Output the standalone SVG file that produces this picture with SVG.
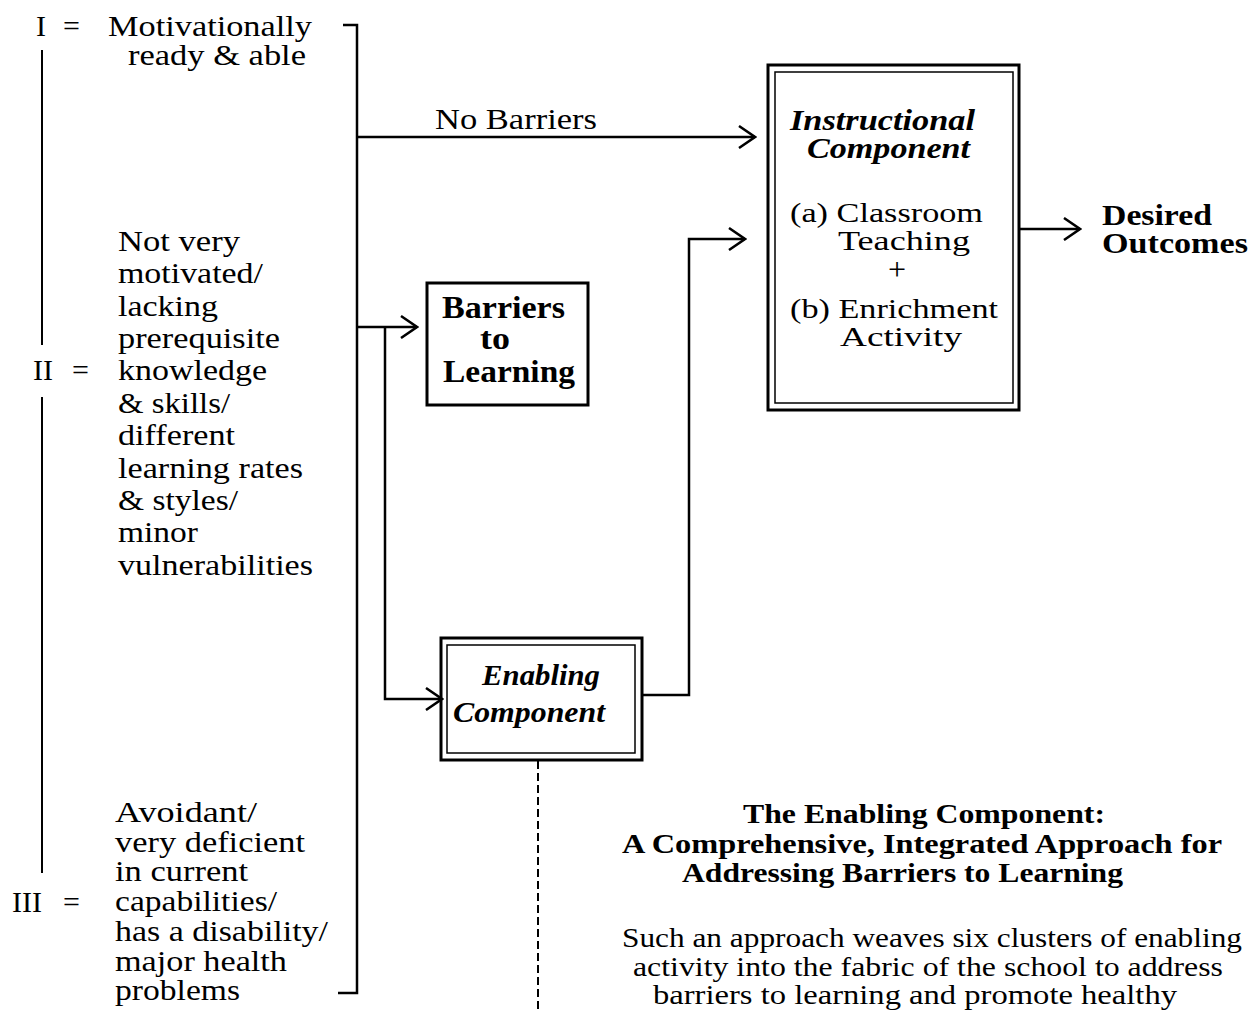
<svg xmlns="http://www.w3.org/2000/svg" width="1253" height="1012" viewBox="0 0 1253 1012">
<style>
text{font-family:"Liberation Serif","Times New Roman",serif;fill:#000}
.l{font-size:30px}
.b{font-weight:bold}
.bi{font-weight:bold;font-style:italic}
.ln{fill:none;stroke:#000;stroke-width:2.5}
.thin{fill:none;stroke:#000;stroke-width:2}
</style>
<defs>
<marker id="arr" viewBox="0 0 20 24" refX="18" refY="12" markerWidth="20" markerHeight="24" markerUnits="userSpaceOnUse" orient="auto">
<path d="M2,1 L18,12 L2,23" fill="none" stroke="#000" stroke-width="2.5"/>
</marker>
</defs>
<rect width="1253" height="1012" fill="#fff"/>

<g id="group-I" class="l">
<text x="36" y="36">I</text>
<text x="63" y="36">=</text>
<text x="108" y="36" textLength="204" lengthAdjust="spacingAndGlyphs">Motivationally</text>
<text x="128" y="65" textLength="178" lengthAdjust="spacingAndGlyphs">ready &amp; able</text>
</g>

<g id="group-II" class="l">
<text x="33" y="380" textLength="20" lengthAdjust="spacingAndGlyphs">II</text>
<text x="72" y="380">=</text>
<text x="118" y="251" textLength="122" lengthAdjust="spacingAndGlyphs">Not very</text>
<text x="118" y="283" textLength="145" lengthAdjust="spacingAndGlyphs">motivated/</text>
<text x="118" y="316" textLength="100" lengthAdjust="spacingAndGlyphs">lacking</text>
<text x="118" y="348" textLength="162" lengthAdjust="spacingAndGlyphs">prerequisite</text>
<text x="118" y="380" textLength="149" lengthAdjust="spacingAndGlyphs">knowledge</text>
<text x="118" y="413" textLength="112" lengthAdjust="spacingAndGlyphs">&amp; skills/</text>
<text x="118" y="445" textLength="117" lengthAdjust="spacingAndGlyphs">different</text>
<text x="118" y="478" textLength="185" lengthAdjust="spacingAndGlyphs">learning rates</text>
<text x="118" y="510" textLength="120" lengthAdjust="spacingAndGlyphs">&amp; styles/</text>
<text x="118" y="542" textLength="80" lengthAdjust="spacingAndGlyphs">minor</text>
<text x="118" y="575" textLength="195" lengthAdjust="spacingAndGlyphs">vulnerabilities</text>
</g>

<g id="group-III" class="l">
<text x="12" y="912" textLength="30" lengthAdjust="spacingAndGlyphs">III</text>
<text x="63" y="912">=</text>
<text x="115" y="822" textLength="142" lengthAdjust="spacingAndGlyphs" style="font-size:29px">Avoidant/</text>
<text x="115" y="852" textLength="190" lengthAdjust="spacingAndGlyphs" style="font-size:29px">very deficient</text>
<text x="115" y="881" textLength="133" lengthAdjust="spacingAndGlyphs" style="font-size:29px">in current</text>
<text x="115" y="911" textLength="162" lengthAdjust="spacingAndGlyphs" style="font-size:29px">capabilities/</text>
<text x="115" y="941" textLength="213" lengthAdjust="spacingAndGlyphs" style="font-size:29px">has a disability/</text>
<text x="115" y="971" textLength="172" lengthAdjust="spacingAndGlyphs" style="font-size:29px">major health</text>
<text x="115" y="1000" textLength="125" lengthAdjust="spacingAndGlyphs" style="font-size:29px">problems</text>
</g>

<g id="scale-line">
<path class="thin" d="M42,50 V345 M42,397 V873"/>
</g>

<g id="barriers">
<rect x="427" y="283" width="161" height="122" fill="#fff" stroke="#000" stroke-width="3"/>
<text class="b" font-size="31" x="442" y="318" textLength="123" lengthAdjust="spacingAndGlyphs">Barriers</text>
<text class="b" font-size="31" x="480" y="349" textLength="30" lengthAdjust="spacingAndGlyphs">to</text>
<text class="b" font-size="31" x="443" y="382" textLength="132" lengthAdjust="spacingAndGlyphs">Learning</text>
</g>

<g id="enabling">
<rect x="441" y="638" width="201" height="122" fill="#fff" stroke="#000" stroke-width="3"/>
<rect x="447" y="645" width="188" height="108" fill="none" stroke="#000" stroke-width="1.5"/>
<text class="bi" font-size="30" x="482" y="685" textLength="118" lengthAdjust="spacingAndGlyphs">Enabling</text>
<text class="bi" font-size="30" x="453" y="722" textLength="152" lengthAdjust="spacingAndGlyphs">Component</text>
</g>

<g id="instructional">
<rect x="768" y="65" width="251" height="345" fill="#fff" stroke="#000" stroke-width="3"/>
<rect x="775" y="72" width="238" height="331" fill="none" stroke="#000" stroke-width="1.5"/>
<text class="bi" font-size="30" x="790" y="130" textLength="185" lengthAdjust="spacingAndGlyphs">Instructional</text>
<text class="bi" font-size="30" x="807" y="158" textLength="163" lengthAdjust="spacingAndGlyphs">Component</text>
<text font-size="28" x="790" y="222" textLength="193" lengthAdjust="spacingAndGlyphs">(a) Classroom</text>
<text font-size="28" x="838" y="250" textLength="132" lengthAdjust="spacingAndGlyphs">Teaching</text>
<text font-size="32" x="897" y="280" text-anchor="middle">+</text>
<text font-size="28" x="790" y="318" textLength="208" lengthAdjust="spacingAndGlyphs">(b) Enrichment</text>
<text font-size="28" x="840" y="346" textLength="122" lengthAdjust="spacingAndGlyphs">Activity</text>
</g>

<g id="outcomes">
<text class="b" font-size="30" x="1102" y="225" textLength="110" lengthAdjust="spacingAndGlyphs">Desired</text>
<text class="b" font-size="30" x="1102" y="253" textLength="146" lengthAdjust="spacingAndGlyphs">Outcomes</text>
</g>

<g id="description">
<text class="b" font-size="28" x="743" y="823" textLength="362" lengthAdjust="spacingAndGlyphs">The Enabling Component:</text>
<text class="b" font-size="28" x="622" y="853" textLength="600" lengthAdjust="spacingAndGlyphs">A Comprehensive, Integrated Approach for</text>
<text class="b" font-size="28" x="682" y="882" textLength="441" lengthAdjust="spacingAndGlyphs">Addressing Barriers to Learning</text>
<text font-size="28" x="622" y="947" textLength="620" lengthAdjust="spacingAndGlyphs">Such an approach weaves six clusters of enabling</text>
<text font-size="28" x="633" y="976" textLength="590" lengthAdjust="spacingAndGlyphs">activity into the fabric of the school to address</text>
<text font-size="28" x="653" y="1004" textLength="524" lengthAdjust="spacingAndGlyphs">barriers to learning and promote healthy</text>
</g>

<g id="connectors">
<path class="ln" d="M343,25 H357 V993 H338"/>
<path class="ln" d="M357,137 H755" marker-end="url(#arr)"/>
<text class="l" x="435" y="129" textLength="162" lengthAdjust="spacingAndGlyphs">No Barriers</text>
<path class="ln" d="M357,327 H417" marker-end="url(#arr)"/>
<path class="ln" d="M385,327 V699 H442" marker-end="url(#arr)"/>
<path class="ln" d="M642,695 H689 V239 H745" marker-end="url(#arr)"/>
<path class="ln" d="M1019,229 H1080" marker-end="url(#arr)"/>
<path fill="none" stroke="#000" stroke-width="2" stroke-dasharray="8,4" d="M538,761 V1012"/>
</g>
</svg>
